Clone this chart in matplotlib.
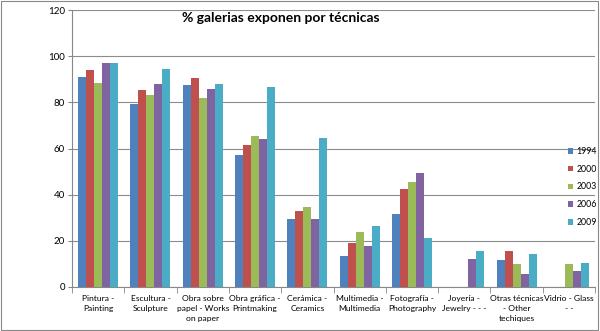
import matplotlib
matplotlib.use("Agg")
import matplotlib.pyplot as plt
import numpy as np

categories = ["Pintura -\nPainting", "Escultura -\nSculpture", "Obra sobre\npapel - Works\non paper",
              "Obra gráfica -\nPrintmaking", "Cerámica -\nCeramics", "Multimedia -\nMultimedia",
              "Fotografía -\nPhotography", "Joyería -\nJewelry - - -", "Otras técnicas\n- Other\ntechiques",
              "Vidrio - Glass\n- -"]
years = ["1994", "2000", "2003", "2006", "2009"]
v1994 = [91.1, 79.4, 87.5, 57.2, 29.3, 13.4, 31.5, 0, 11.7, 0]
v2000 = [94.0, 85.3, 90.5, 61.4, 32.8, 19.1, 42.3, 0, 15.6, 0]
v2003 = [88.5, 83.2, 81.7, 65.4, 34.7, 23.8, 45.5, 0, 10.0, 10.0]
v2006 = [97.2, 88.1, 85.8, 64.1, 29.3, 17.9, 49.5, 12.3, 5.8, 7.1]
v2009 = [96.9, 94.6, 87.8, 86.6, 64.4, 26.4, 21.1, 15.6, 14.3, 10.3]
series = [v1994, v2000, v2003, v2006, v2009]
colors = ["#4F81BD", "#C0504D", "#9BBB59", "#8064A2", "#4BACC6"]
yticks = [0, 20, 40, 60, 80, 100, 120]

plt.rcParams['font.family'] = ['Lato', 'DejaVu Sans']
fig = plt.figure(figsize=(6, 3.31), dpi=100)
ax = fig.add_axes([72/600, 1-287/331, (595-72)/600, (287-10)/331])

x = np.arange(len(categories))
w = 0.153
for i, (vals, c, yr) in enumerate(zip(series, colors, years)):
    ax.bar(x + (i - 2) * w, vals, width=w, color=c, label=yr, zorder=3)

ax.set_xlim(-0.5, len(categories) - 0.5)
ax.set_ylim(0, 120)
ax.set_yticks(yticks)
ax.tick_params(axis='y', labelsize=7, length=3, color='#888888', pad=2)
ax.set_xticks(x)
ax.set_xticklabels(categories, fontsize=6.1, linespacing=1.45)
ax.tick_params(axis='x', which='major', length=0, pad=6)
ax.set_xticks(np.arange(-0.5, len(categories), 1), minor=True)
ax.tick_params(axis='x', which='minor', length=4, color='#888888')
ax.grid(axis='y', color='#8C8C8C', linewidth=0.8, zorder=0)
for s in ['top', 'right']:
    ax.spines[s].set_visible(False)
for s in ['left', 'bottom']:
    ax.spines[s].set_color('#888888')
    ax.spines[s].set_linewidth(0.8)

fig.text(281/600, 1-18/331, "% galerias exponen por técnicas", ha='center', va='center',
         fontsize=10, fontweight='bold')

leg = ax.legend(loc='upper left', bbox_to_anchor=(560/600, 1-139/331), bbox_transform=fig.transFigure,
                frameon=False, fontsize=6.3, handlelength=0.6, handleheight=0.6, handletextpad=0.4,
                labelspacing=1.0)

# chart border
fig.patches.append(plt.Rectangle((0.002, 0.004), 0.994, 0.992, transform=fig.transFigure,
                                 fill=False, edgecolor='#888888', linewidth=0.8))

fig.savefig("out.png", dpi=100)
